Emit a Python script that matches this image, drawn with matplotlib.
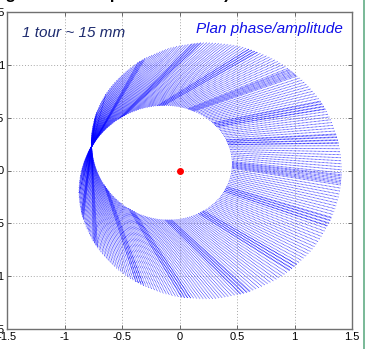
import numpy as np
import matplotlib
matplotlib.use("Agg")
import matplotlib.pyplot as plt
from matplotlib.collections import LineCollection
from matplotlib.lines import Line2D

plt.rcParams['font.family'] = ['Liberation Sans', 'DejaVu Sans']

# ---- data ----
x_ticks = [-1.5, -1, -0.5, 0, 0.5, 1, 1.5]
x_tick_labels = ['-1.5', '-1', '-0.5', '0', '0.5', '1', '1.5']
y_ticks = [-1.5, -1, -0.5, 0, 0.5, 1, 1.5]
y_tick_labels = ['-1.5', '-1', '-0.5', '0', '0.5', '1', '1.5']

pole_xy = [-0.765, 0.225]          # crossing point of the trajectory
mean_amplitude = 1.72               # slow (once per turn) amplitude
ripple_amplitude = 0.48             # fast amplitude swing (half width)
axis_phase_deg = -13.0              # phase of the maximum amplitude
phase_start_deg, phase_end_deg, phase_step_deg = -104.0, 76.0, 0.75
dense_phase_deg = [62, 47, 33, 22, 11, 2, -8, -19, -33, -46, -60, -72, -88, -97]
centre_point = [0.0, 0.0]

title_text = "Spirale (usinage de la face plane à 15 mm)"
title_prefix = "Spirale (usina"
label_left = "1 tour ~ 15 mm"
label_right = "Plan phase/amplitude"

# ---- figure ----
W, H = 367, 349
fig = plt.figure(figsize=(W / 100, H / 100), dpi=100)
ax = fig.add_axes([7 / W, 20 / H, 345 / W, 317 / H])

phases = np.arange(phase_start_deg, phase_end_deg + 1e-9, phase_step_deg)
extra = []
for d in dense_phase_deg:
    extra.extend([d - 1.1, d - 0.4, d + 0.35, d + 1.05])
phases = np.concatenate([phases, np.array(extra)])

segs = []
for ph in phases:
    c = np.cos(np.radians(ph - axis_phase_deg))
    r1 = mean_amplitude * c - ripple_amplitude
    r2 = mean_amplitude * c + ripple_amplitude
    u = np.array([np.cos(np.radians(ph)), np.sin(np.radians(ph))])
    p1 = np.array(pole_xy) + r1 * u
    p2 = np.array(pole_xy) + r2 * u
    segs.append([p1, p2])

lc = LineCollection(segs, colors=(0, 0, 1), linewidths=0.6, alpha=0.85,
                    linestyles=[(0, (0.9, 0.7))], zorder=2)
ax.add_collection(lc)
ax.plot([centre_point[0]], [centre_point[1]], 'o', color='red', ms=4, zorder=3)

ax.set_xlim(-1.5, 1.5)
ax.set_ylim(-1.5, 1.5)
ax.set_xticks(x_ticks)
ax.set_xticklabels(x_tick_labels)
ax.set_yticks(y_ticks)
ax.set_yticklabels(y_tick_labels)
ax.tick_params(direction='in', length=3, width=0.6, labelsize=8, pad=2,
               top=True, right=True, colors='#555555', labelcolor='black')
ax.grid(True, linestyle=(0, (1, 2)), color='#a8a8a8', linewidth=0.7)
ax.set_axisbelow(True)
for s in ax.spines.values():
    s.set_color('#707070')
    s.set_linewidth(1.0)

ax.text((22 - 7) / 345, (329 - 37.3) / 317, label_left, transform=ax.transAxes,
        fontsize=11, style='italic', color='#1c2a6e', ha='left', va='baseline')
ax.text((343 - 7) / 345, (329 - 33.3) / 317, label_right, transform=ax.transAxes,
        fontsize=11, style='italic', color='#1010e8', ha='right', va='baseline')

# title, mostly above the visible area
fig.canvas.draw()
rend = fig.canvas.get_renderer()
tmp = fig.text(0, 0, title_prefix, fontsize=12, fontweight='bold')
wpx = tmp.get_window_extent(rend).width
tmp.remove()
fig.text((6 - wpx) / W, (H + 0.8) / H, title_text, fontsize=12, fontweight='bold',
         color='black', ha='left', va='baseline')

fig.add_artist(Line2D([363.5 / W, 363.5 / W], [0, 1], color='#62ad85', lw=1.2,
                      transform=fig.transFigure))

fig.savefig('out.png', dpi=100, facecolor='white')
